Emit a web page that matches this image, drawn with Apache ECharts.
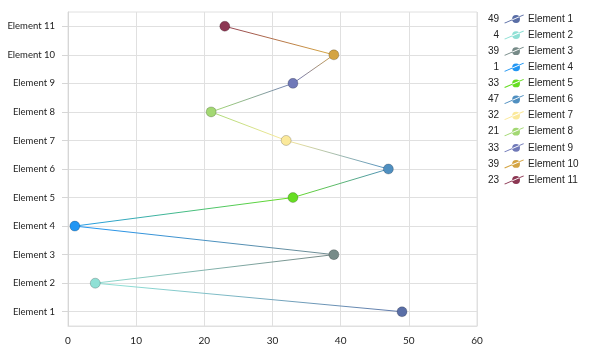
<!DOCTYPE html>
<html>
<head>
<meta charset="utf-8">
<script src="https://cdn.jsdelivr.net/npm/echarts@6/dist/echarts.min.js"></script>
<style>
  html, body { margin: 0; padding: 0; background: #fff; }
  #chart { width: 590px; height: 354px; }
</style>
</head>
<body>
<div id="chart"></div>
<script>
const categories = ['Element 1', 'Element 2', 'Element 3', 'Element 4', 'Element 5', 'Element 6',
  'Element 7', 'Element 8', 'Element 9', 'Element 10', 'Element 11']
const values = [49, 4, 39, 1, 33, 47, 32, 21, 33, 39, 23]
const colors = ['#5a6ea6', '#8fe0d5', '#778b88', '#2196f3', '#66dd22', '#4f8fc0',
  '#fbe99b', '#a3d873', '#7079b8', '#d4a443', '#8c3753']
const xTicks = [0, 60, 10]

const axisFont = 'Lato'
const legendFont = 'Liberation Sans'

// legend icon: thin slanted line with a dot a bit right of the middle
const lineDotIcon = 'path://M0,8.4 L0.5,9.2 L20,0.8 L19.5,0 Z M8,4.6 A4,4 0 1 1 16,4.6 A4,4 0 1 1 8,4.6 Z'

// gradient along the connecting line, top (last element) to bottom (first)
const stops = colors.map((c, i) => ({ offset: (categories.length - 1 - i) / (categories.length - 1), color: c }))
  .sort((a, b) => a.offset - b.offset)

const series = [{
  type: 'line',
  silent: true,
  showSymbol: false,
  lineStyle: {
    width: 1,
    color: new echarts.graphic.LinearGradient(0, 0, 0, 1, stops)
  },
  data: categories.map((c, i) => [values[i], c]),
  z: 1
}]

categories.forEach((name, i) => {
  series.push({
    name,
    type: 'scatter',
    symbol: 'circle',
    symbolSize: 10,
    itemStyle: {
      color: colors[i],
      borderColor: 'rgba(0,0,0,0.2)',
      borderWidth: 1,
      opacity: 1
    },
    data: [[values[i], name]],
    z: 3
  })
})

const legendText = { fontFamily: legendFont, fontSize: 10, color: '#222', lineHeight: 12 }

const option = {
  animation: false,
  backgroundColor: '#fff',
  grid: {
    left: 68,
    right: 113,
    top: 12,
    bottom: 28,
    show: true,
    borderColor: '#e0e0e0',
    borderWidth: 1
  },
  legend: [{
    orient: 'vertical',
    left: 488,
    top: 13,
    padding: 0,
    itemGap: 4.1,
    itemWidth: 20,
    itemHeight: 9,
    align: 'right',
    icon: lineDotIcon,
    itemStyle: { borderWidth: 0 },
    selectedMode: false,
    formatter: name => String(values[categories.indexOf(name)]),
    textStyle: legendText,
    data: categories
  }, {
    orient: 'vertical',
    left: 522,
    top: 13,
    padding: 0,
    itemGap: 4.1,
    itemWidth: 1,
    itemHeight: 9,
    icon: 'rect',
    itemStyle: { opacity: 0, borderWidth: 0 },
    selectedMode: false,
    textStyle: legendText,
    data: categories
  }],
  xAxis: {
    type: 'value',
    min: xTicks[0],
    max: xTicks[1],
    interval: xTicks[2],
    axisLine: { show: true, lineStyle: { color: '#e0e0e0' } },
    axisTick: { show: false },
    axisLabel: { fontFamily: axisFont, fontSize: 10, color: '#222', margin: 10 },
    splitLine: { lineStyle: { color: '#e0e0e0' } }
  },
  yAxis: {
    type: 'category',
    data: categories,
    axisLine: { show: true, lineStyle: { color: '#d6d6d6' } },
    axisTick: { show: true, alignWithLabel: true, length: 6, lineStyle: { color: '#d6d6d6' } },
    axisLabel: { fontFamily: axisFont, fontSize: 9.5, color: '#222', margin: 13 },
    splitLine: { show: true, alignWithLabel: true, lineStyle: { color: '#e0e0e0' } }
  },
  series
}

const chart = echarts.init(document.getElementById('chart'))
chart.setOption(option)
</script>
</body>
</html>
